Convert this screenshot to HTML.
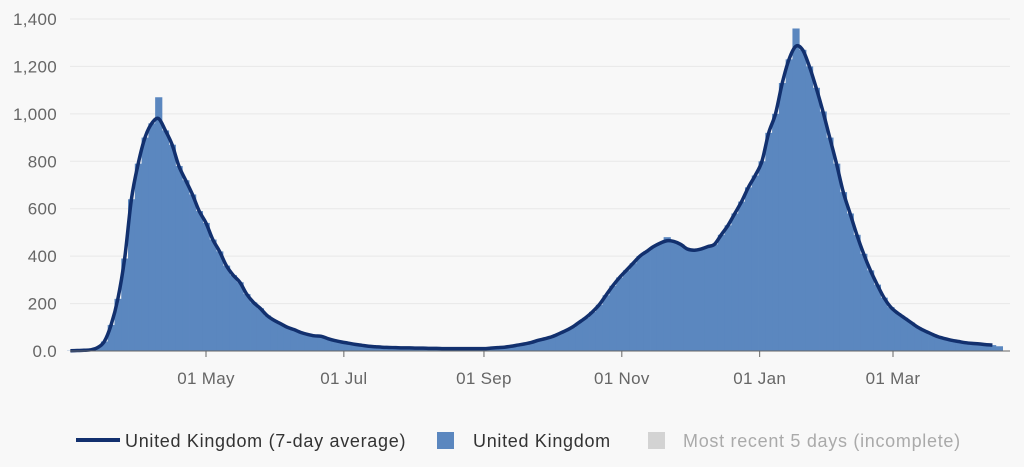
<!DOCTYPE html>
<html><head><meta charset="utf-8"><style>
body{margin:0;background:#f8f8f8;font-family:"Liberation Sans",sans-serif;}
svg{display:block}
</style></head><body>
<svg id="c" width="1024" height="467">
<rect width="1024" height="467" fill="#f8f8f8"/>
<g id="grid"></g><g id="bars"></g><g id="line"></g><g id="axes"></g>
<g font-size="18" fill="#333" letter-spacing="0.7">
 <g><line x1="76" y1="440" x2="120" y2="440" stroke="#12306e" stroke-width="4"/><text x="125" y="447">United Kingdom (7-day average)</text></g>
 <g><rect x="437" y="432" width="17" height="17" fill="#5b87bf"/><text x="473" y="447">United Kingdom</text></g>
 <g><rect x="648" y="432" width="17" height="17" fill="#d3d3d3"/><text x="683" y="447" fill="#aaa">Most recent 5 days (incomplete)</text></g>
</g>
</svg>
<script>
const startDate = "2020-03-02";
const stepDays = 3;
const dailyValues = [1,2,3,5,14,40,110,220,390,640,790,900,960,1070,930,870,780,720,660,590,540,470,420,360,320,290,240,205,180,150,130,115,100,90,78,70,64,62,52,44,38,33,28,24,20,18,16,15,14,13,13,12,12,11,11,10,10,10,10,10,10,10,12,14,16,20,25,30,36,45,52,60,72,85,100,120,140,165,195,235,275,310,340,370,400,420,440,455,480,462,450,430,425,430,440,450,490,530,580,630,690,740,800,920,1000,1130,1230,1360,1270,1200,1110,1010,900,790,670,580,490,410,340,280,225,185,160,140,120,100,85,72,60,52,45,40,35,32,30,27,25,20];
const avgValues = [1,2,3,5,14,40,110,220,390,640,790,900,960,980,930,870,780,720,660,590,540,470,420,360,320,290,240,205,180,150,130,115,100,90,78,70,64,62,52,44,38,33,28,24,20,18,16,15,14,13,13,12,12,11,11,10,10,10,10,10,10,10,12,14,16,20,25,30,36,45,52,60,72,85,100,120,140,165,195,235,275,310,340,370,400,420,440,455,465,462,450,430,425,430,440,450,490,530,580,630,690,740,800,920,1000,1130,1230,1285,1270,1200,1110,1010,900,790,670,580,490,410,340,280,225,185,160,140,120,100,85,72,60,52,45,40,35,32,30,27,25];
const yTicks = [0,200,400,600,800,1000,1200,1400];
const yTickLabels = ["0.0","200","400","600","800","1,000","1,200","1,400"];
const xTickDates = ["2020-05-01","2020-07-01","2020-09-01","2020-11-01","2021-01-01","2021-03-01"];
const xTickLabels = ["01 May","01 Jul","01 Sep","01 Nov","01 Jan","01 Mar"];

const NS="http://www.w3.org/2000/svg";
const DAY=86400000, t0=Date.parse(startDate);
const pxPerDay=(893-206)/304;
const x0=206-(Date.parse("2020-05-01")-t0)/DAY*pxPerDay;
function xDay(d){return x0+d*pxPerDay;}
function xDate(s){return xDay((Date.parse(s)-t0)/DAY);}
function y(v){return 351-v*(332/1400);}
function mk(tag,attrs,parent){const e=document.createElementNS(NS,tag);for(const k in attrs)e.setAttribute(k,attrs[k]);parent.appendChild(e);return e;}
const G=id=>document.getElementById(id);
yTicks.forEach((v,i)=>{
 const l=mk('line',{x1:70,x2:1010,y1:y(v),y2:y(v),stroke:i?'#e8e8e8':'#666','stroke-width':1},G(i?'grid':'axes'));
 
 
 const t=mk('text',{x:57,y:y(v)+6,'text-anchor':'end','font-size':17,fill:'#666','letter-spacing':0.3},G('axes'));
 t.textContent=yTickLabels[i];
 
 
});
xTickDates.forEach((d,i)=>{
 const x=xDate(d);
 const tk=mk('line',{x1:x,x2:x,y1:351,y2:357,stroke:'#666'},G('axes'));
 
 
 const t=mk('text',{x:x,y:384,'text-anchor':'middle','font-size':17,fill:'#666','letter-spacing':0.3},G('axes'));
 t.textContent=xTickLabels[i];
 
 
});
const bw=stepDays*pxPerDay;
dailyValues.forEach((v,i)=>{
 const x=xDay(i*stepDays);
 const r=mk('rect',{x:x-bw/2,y:y(v),width:bw+0.4,height:351-y(v),fill:'#5b87bf'},G('bars'));
 
 
});
const pts=avgValues.map((v,i)=>[xDay(i*stepDays),y(v)]);
let d='M'+pts[0][0]+','+pts[0][1];
for(let i=0;i<pts.length-1;i++){
 const p0=pts[Math.max(0,i-1)],p1=pts[i],p2=pts[i+1],p3=pts[Math.min(pts.length-1,i+2)];
 d+=' C'+(p1[0]+(p2[0]-p0[0])/6)+','+(p1[1]+(p2[1]-p0[1])/6)+' '+(p2[0]-(p3[0]-p1[0])/6)+','+(p2[1]-(p3[1]-p1[1])/6)+' '+p2[0]+','+p2[1];
}
const pl=mk('path',{d:d,fill:'none',stroke:'#12306e','stroke-width':3.5,'stroke-linejoin':'round'},G('line'));


</script>
</body></html>
